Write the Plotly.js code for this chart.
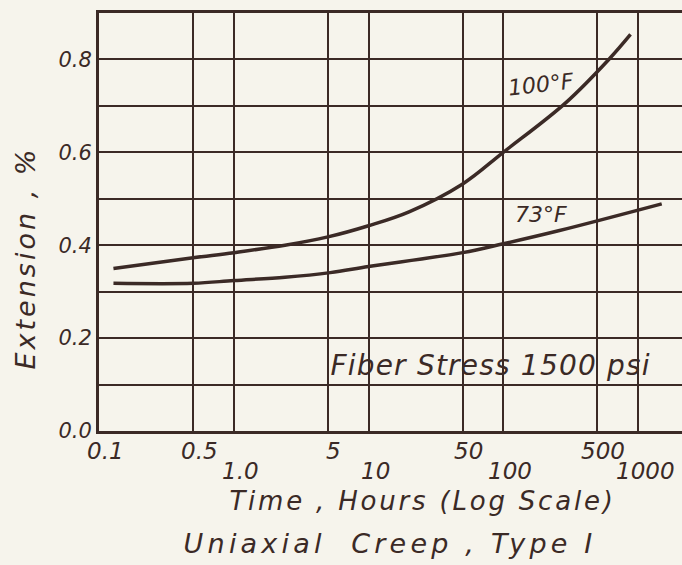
<!DOCTYPE html>
<html>
<head>
<meta charset="utf-8">
<script src="https://cdn.plot.ly/plotly-3.0.1.min.js"></script>
<style>
  html, body { margin: 0; padding: 0; overflow: hidden; background: #f6f4ec; }
  #chart { width: 700px; height: 565px; }
</style>
</head>
<body>
<div id="chart"></div>
<script>
// Data
const hours100F = [0.128, 0.5, 1.0, 2.4, 5, 10, 20, 50, 100, 289, 607, 880];
const ext100F   = [0.350, 0.373, 0.384, 0.400, 0.418, 0.442, 0.472, 0.532, 0.600, 0.706, 0.800, 0.854];
const hours73F  = [0.128, 0.5, 1.0, 2.4, 5.2, 10, 50, 100, 257, 1500];
const ext73F    = [0.318, 0.318, 0.324, 0.331, 0.341, 0.354, 0.384, 0.403, 0.431, 0.489];

const xGridVals   = [0.1, 0.5, 1, 5, 10, 50, 100, 500, 1000];
const xUpperTicks = [0.1, 0.5, 5, 50, 500];
const xUpperText  = ['0.1', '0.5', '5', '50', '500'];
const xLowerTicks = [1, 10, 100, 1000];
const xLowerText  = ['1.0', '10', '100', '1000'];
const yTickVals   = [0, 0.1, 0.2, 0.3, 0.4, 0.5, 0.6, 0.7, 0.8];
const yTickText   = ['0.0', '', '0.2', '', '0.4', '', '0.6', '', '0.8'];

const ink = '#3b2a26';
const bg = '#f6f4ec';
const FONT = 'DejaVu Sans';
const NB = '\u00A0';

const traces = [
  { x: hours100F, y: ext100F, mode: 'lines', name: '100°F',
    line: { color: ink, width: 3.5, shape: 'spline', smoothing: 1.0 } },
  { x: hours73F, y: ext73F, mode: 'lines', name: '73°F',
    line: { color: ink, width: 3.5, shape: 'spline', smoothing: 1.0 } }
];

const annotations = [];
const spacing = [];   // letter spacing (px) per annotation, applied after drawing
function add(a, ls) { annotations.push(a); spacing.push(ls || 0); }

xUpperTicks.forEach((v, i) => add({
  x: Math.log10(v), y: 0, xref: 'x', yref: 'y', text: xUpperText[i],
  showarrow: false, xanchor: 'center', yanchor: 'middle', xshift: 6, yshift: -20,
  font: { family: FONT, size: 23, color: ink, style: 'italic' }
}));
xLowerTicks.forEach((v, i) => add({
  x: Math.log10(v), y: 0, xref: 'x', yref: 'y', text: xLowerText[i],
  showarrow: false, xanchor: 'center', yanchor: 'middle', xshift: 7, yshift: -40,
  font: { family: FONT, size: 23, color: ink, style: 'italic' }
}));
add({ x: Math.log10(190), y: 0.745, xref: 'x', yref: 'y', text: '100°F', showarrow: false,
      textangle: -6, font: { family: FONT, size: 22, color: ink, style: 'italic' } });
add({ x: Math.log10(190), y: 0.467, xref: 'x', yref: 'y', text: '73°F', showarrow: false,
      font: { family: FONT, size: 22, color: ink, style: 'italic' } });
add({ x: Math.log10(80), y: 0.14, xref: 'x', yref: 'y', text: 'Fiber Stress 1500 psi', showarrow: false,
      font: { family: FONT, size: 28, color: ink, style: 'italic' } }, 1.2);
add({ x: 422, y: 501, xref: 'paper', yref: 'paper', text: 'Time , Hours (Log Scale)',
      showarrow: false, xanchor: 'center', yanchor: 'middle',
      font: { family: FONT, size: 26, color: ink, style: 'italic' } }, 2.8);
add({ x: 390, y: 543, xref: 'paper', yref: 'paper', text: 'Uniaxial' + NB + NB + 'Creep , Type I',
      showarrow: false, xanchor: 'center', yanchor: 'middle',
      font: { family: FONT, size: 27, color: ink, style: 'italic' } }, 4.2);
add({ x: 25, y: 258, xref: 'paper', yref: 'paper', text: 'Extension , %',
      showarrow: false, textangle: -90, xanchor: 'center', yanchor: 'middle',
      font: { family: FONT, size: 27, color: ink, style: 'italic' } }, 3.0);

// convert pixel placement of free text into paper coordinates of the plot area
annotations.forEach(a => {
  if (a.xref === 'paper') {
    a.x = (a.x - 99) / 600;
    a.y = (431 - a.y) / 418;
  }
});

const layout = {
  width: 700, height: 565,
  margin: { l: 99, r: 1, t: 13, b: 134 },
  paper_bgcolor: bg, plot_bgcolor: bg,
  showlegend: false,
  xaxis: {
    type: 'log', range: [-1, -1 + 600 / 134.75],
    tickvals: xGridVals, showticklabels: false, ticks: '',
    showgrid: true, gridcolor: ink, gridwidth: 2,
    showline: true, linecolor: ink, linewidth: 3, mirror: true,
    zeroline: false
  },
  yaxis: {
    range: [0, 0.9], tickvals: yTickVals, ticktext: yTickText, ticks: '',
    tickfont: { family: FONT, size: 21, color: ink, style: 'italic' },
    showgrid: true, gridcolor: ink, gridwidth: 2,
    showline: true, linecolor: ink, linewidth: 3, mirror: true,
    zeroline: false
  },
  annotations: annotations
};

Plotly.newPlot('chart', traces, layout, { displayModeBar: false, staticPlot: true }).then(gd => {
  const nodes = gd.querySelectorAll('.annotation');
  nodes.forEach((node, i) => {
    if (spacing[i]) {
      const t = node.querySelector('text.annotation-text');
      if (t) {
        t.style.letterSpacing = spacing[i] + 'px';
        t.setAttribute('text-anchor', 'middle');
      }
    }
  });
});
</script>
</body>
</html>
